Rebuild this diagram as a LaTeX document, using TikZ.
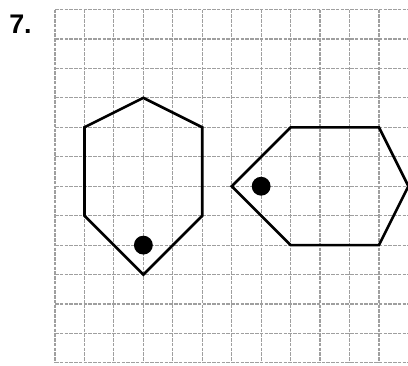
\documentclass[tikz,border=0pt]{standalone}
\usepackage{fontspec}
\setmainfont{Liberation Sans}
\begin{document}
\begin{tikzpicture}[
  gridline/.style={gray!75, line width=1.1pt, dash pattern=on 3.4pt off 1.2pt},
  hexline/.style={black, line width=2.5pt, line join=miter},
  marker/.style={circle, fill=black, inner sep=0pt, minimum size=0.64cm},
  numlabel/.style={anchor=base west, inner sep=0pt, font=\fontsize{26}{30}\selectfont\bfseries}
]
\useasboundingbox (-1.868,0.323) rectangle (11.986,-12.071);
\clip (-1.868,0.323) rectangle (11.986,-12.071);
% grid
\foreach \i in {0,...,11} \draw[gridline] (\i,0) -- (\i,-12);
\foreach \j in {0,...,12} \draw[gridline] (0,-\j) -- (12.5,-\j);
% label
\node[numlabel] (lab) at (-1.56,-0.80) {7.};
% left hexagon
\coordinate (a1) at (3,-3);
\coordinate (a2) at (5,-4);
\coordinate (a3) at (5,-7);
\coordinate (a4) at (3,-9);
\coordinate (a5) at (1,-7);
\coordinate (a6) at (1,-4);
\draw[hexline] (a1) -- (a2) -- (a3) -- (a4) -- (a5) -- (a6) -- cycle;
\node[marker] (d1) at (3,-8) {};
% right hexagon
\coordinate (b1) at (6,-6);
\coordinate (b2) at (8,-4);
\coordinate (b3) at (11,-4);
\coordinate (b4) at (12,-6);
\coordinate (b5) at (11,-8);
\coordinate (b6) at (8,-8);
\draw[hexline] (b1) -- (b2) -- (b3) -- (b4) -- (b5) -- (b6) -- cycle;
\node[marker] (d2) at (7,-6) {};
\end{tikzpicture}
\end{document}
